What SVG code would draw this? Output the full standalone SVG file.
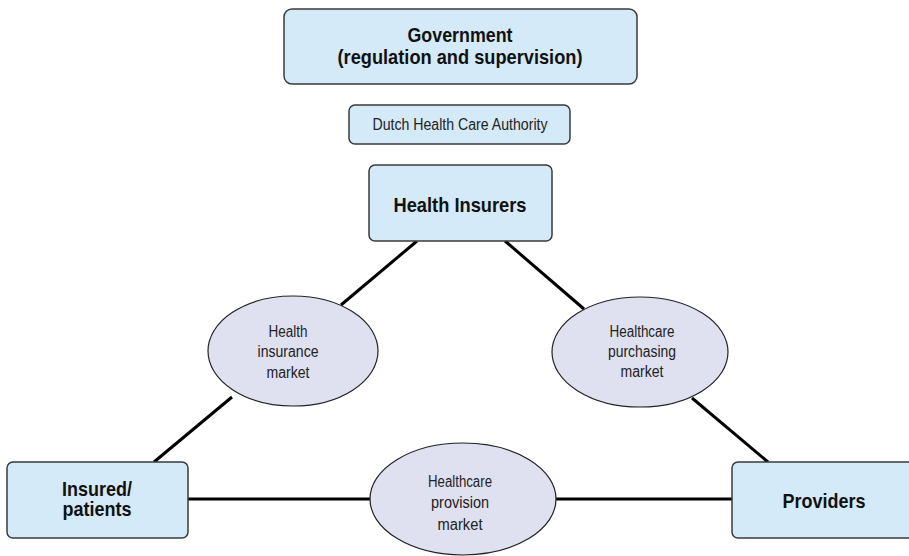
<svg xmlns="http://www.w3.org/2000/svg" width="909" height="556" viewBox="0 0 909 556">
<style>
.box{fill:#d5eaf8;stroke:#3a3a3a;stroke-width:1.5}
.ell{fill:#dfe1f1;stroke:#222;stroke-width:1.2}
.ln{stroke:#000;stroke-width:3;fill:none}
.tb{font-family:"Liberation Sans",Arial,sans-serif;font-weight:bold;font-size:21px;fill:#111;text-anchor:middle}
.tr{font-family:"Liberation Sans",Arial,sans-serif;font-size:16px;fill:#222;text-anchor:middle}
</style>
<rect width="909" height="556" fill="#fff"/>
<g id="connectors">
<line class="ln" x1="417" y1="241" x2="341" y2="305"/>
<line class="ln" x1="232" y1="397" x2="154" y2="462"/>
<line class="ln" x1="505" y1="241" x2="584" y2="309"/>
<line class="ln" x1="692" y1="398" x2="768" y2="462"/>
<line class="ln" x1="188" y1="499" x2="372" y2="499"/>
<line class="ln" x1="554" y1="499" x2="732" y2="499"/>
</g>
<g id="government">
<rect class="box" x="284" y="9" width="353" height="75" rx="8"/>
<text class="tb" x="460" y="42" textLength="105" lengthAdjust="spacingAndGlyphs">Government</text>
<text class="tb" x="460" y="64" textLength="245" lengthAdjust="spacingAndGlyphs">(regulation and supervision)</text>
</g>
<g id="authority">
<rect class="box" x="349" y="105" width="221" height="39" rx="6"/>
<text class="tr" x="460" y="130" textLength="175" lengthAdjust="spacingAndGlyphs">Dutch Health Care Authority</text>
</g>
<g id="insurers">
<rect class="box" x="369" y="165" width="183" height="76" rx="6"/>
<text class="tb" x="460" y="212" textLength="133" lengthAdjust="spacingAndGlyphs">Health Insurers</text>
</g>
<g id="insured">
<rect class="box" x="7" y="462" width="181" height="76" rx="6"/>
<text class="tb" x="97" y="496" font-size="20" textLength="70" lengthAdjust="spacingAndGlyphs">Insured/</text>
<text class="tb" x="97" y="516" font-size="20" textLength="69" lengthAdjust="spacingAndGlyphs">patients</text>
</g>
<g id="providers">
<rect class="box" x="732" y="462" width="182" height="76" rx="6"/>
<text class="tb" x="824" y="508" textLength="83" lengthAdjust="spacingAndGlyphs">Providers</text>
</g>
<g id="insurance-market">
<ellipse class="ell" cx="293" cy="351" rx="85" ry="55"/>
<text class="tr" x="288" y="337" textLength="39" lengthAdjust="spacingAndGlyphs">Health</text>
<text class="tr" x="288" y="357" textLength="61" lengthAdjust="spacingAndGlyphs">insurance</text>
<text class="tr" x="288" y="378" textLength="43" lengthAdjust="spacingAndGlyphs">market</text>
</g>
<g id="purchasing-market">
<ellipse class="ell" cx="640" cy="352" rx="88" ry="55"/>
<text class="tr" x="642" y="337" textLength="65" lengthAdjust="spacingAndGlyphs">Healthcare</text>
<text class="tr" x="642" y="357" textLength="68" lengthAdjust="spacingAndGlyphs">purchasing</text>
<text class="tr" x="642" y="377" textLength="43" lengthAdjust="spacingAndGlyphs">market</text>
</g>
<g id="provision-market">
<ellipse class="ell" cx="463" cy="499" rx="93" ry="56"/>
<text class="tr" x="460" y="487" textLength="64" lengthAdjust="spacingAndGlyphs">Healthcare</text>
<text class="tr" x="460" y="508" textLength="58" lengthAdjust="spacingAndGlyphs">provision</text>
<text class="tr" x="460" y="530" textLength="45" lengthAdjust="spacingAndGlyphs">market</text>
</g>
</svg>
